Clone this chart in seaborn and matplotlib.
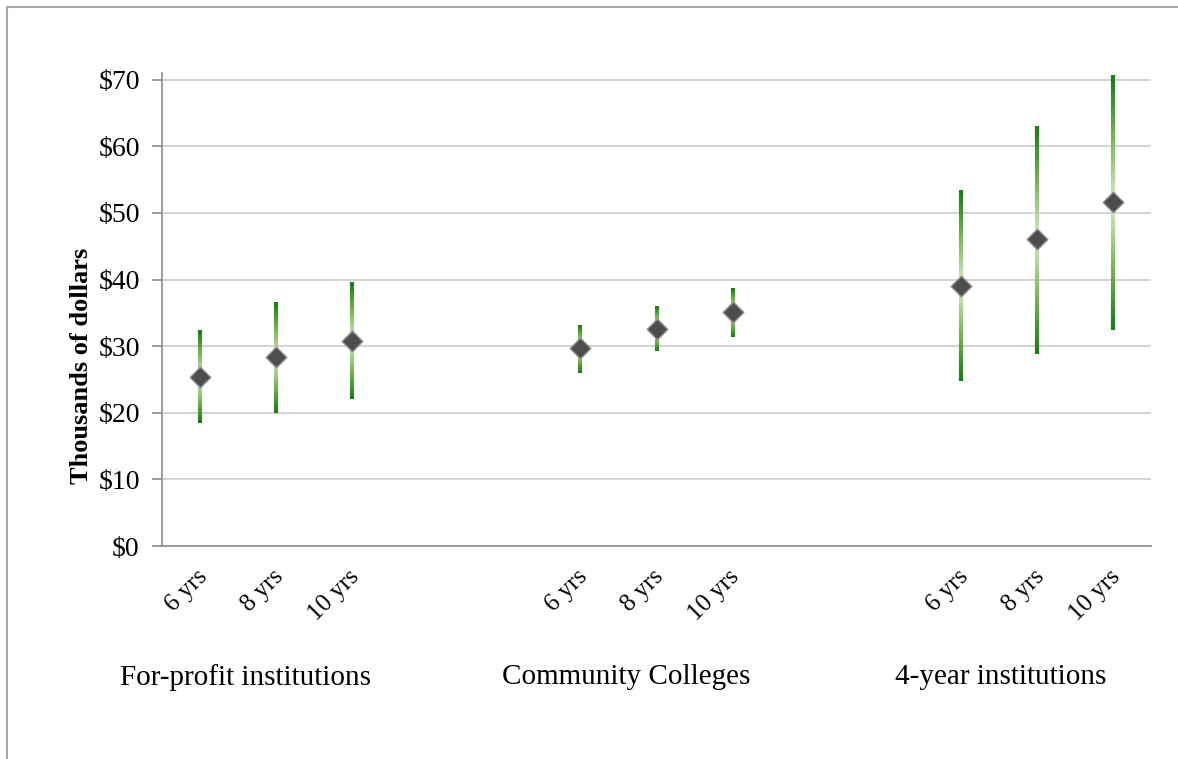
import numpy as np
import pandas as pd
import matplotlib
matplotlib.use("Agg")
import matplotlib.pyplot as plt
import matplotlib.transforms as mtransforms
from matplotlib.collections import LineCollection
from matplotlib.colors import LinearSegmentedColormap
from matplotlib.patches import Rectangle
import seaborn as sns

# ---- data (13 category slots, blanks separate the groups) ----
tick_labels = ["6 yrs", "8 yrs", "10 yrs", "", "",
               "6 yrs", "8 yrs", "10 yrs", "", "",
               "6 yrs", "8 yrs", "10 yrs"]
mid_values = [25.3, 28.3, 30.8, np.nan, np.nan,
              29.7, 32.6, 35.1, np.nan, np.nan,
              39.1, 46.1, 51.6]
low_values = [18.4, 20.0, 22.0, np.nan, np.nan,
              26.0, 29.2, 31.3, np.nan, np.nan,
              24.7, 28.8, 32.4]
high_values = [32.4, 36.6, 39.7, np.nan, np.nan,
               33.2, 36.1, 38.7, np.nan, np.nan,
               53.5, 63.1, 70.7]
group_names = ["For-profit institutions", "Community Colleges", "4-year institutions"]
y_ticks = [0, 10, 20, 30, 40, 50, 60, 70]
y_tick_labels = ["$0", "$10", "$20", "$30", "$40", "$50", "$60", "$70"]

sns.set_theme(style="white")
plt.rcParams["font.family"] = ["Liberation Serif", "DejaVu Serif"]
plt.rcParams["text.color"] = "black"
plt.rcParams["xtick.labelcolor"] = "black"
plt.rcParams["ytick.labelcolor"] = "black"
plt.rcParams["axes.labelcolor"] = "black"

W, H = 1178, 759
fig = plt.figure(figsize=(W / 100, H / 100), dpi=100)
ax = fig.add_axes([162 / W, 1 - 546 / H, (1151 - 162) / W, (546 - 73) / H])

df = pd.DataFrame({"slot": np.arange(len(tick_labels)), "label": tick_labels,
                   "mid": mid_values, "low": low_values, "high": high_values})
d = df.dropna()

# gradient whiskers (dark ends, pale at the marker)
cmap = LinearSegmentedColormap.from_list("g", ["#1a7a1a", "#7fb25a", "#d8ebc8"])
nseg = 60
for _, r in d.iterrows():
    for a, b in ((r["high"], r["mid"]), (r["low"], r["mid"])):
        ys = np.linspace(a, b, nseg + 1)
        segs = [[(r["slot"], ys[i]), (r["slot"], ys[i + 1])] for i in range(nseg)]
        cols = cmap(np.linspace(0, 1, nseg))
        lc = LineCollection(segs, colors=cols, linewidths=3.0, capstyle="butt", zorder=3)
        lc.set_clip_on(False)
        ax.add_collection(lc)
    ax.plot([r["slot"]] * 2, [r["high"], r["high"] - 0.01], color="#1a7a1a", lw=3.0,
            solid_capstyle="round", zorder=3, clip_on=False)
    ax.plot([r["slot"]] * 2, [r["low"], r["low"] + 0.01], color="#1a7a1a", lw=3.0,
            solid_capstyle="round", zorder=3, clip_on=False)

sns.scatterplot(data=d, x="slot", y="mid", marker="D", s=110, color="#4d4d4d",
                edgecolor="#8c8c8c", linewidth=1.0, zorder=5, ax=ax, clip_on=False)

ax.set_xlim(-0.5, len(tick_labels) - 0.5)
ax.set_ylim(0, 71)
ax.set_yticks(y_ticks)
ax.set_yticklabels(y_tick_labels, fontsize=20)
ax.set_xticks(np.arange(len(tick_labels)))
ax.set_xticklabels(tick_labels, fontsize=18, rotation=45, ha="right",
                   rotation_mode="anchor")
ax.set_xticks(np.arange(-0.5, len(tick_labels)), minor=True)
ax.tick_params(axis="x", which="major", length=0, pad=14)
ax.tick_params(axis="x", which="minor", length=6, width=1.2, color="#8c8c8c", direction="out")
ax.tick_params(axis="y", length=7, width=1.2, color="#8c8c8c", direction="out", pad=9,
               left=True)
for lab in ax.get_xticklabels():
    lab.set_transform(lab.get_transform() + mtransforms.ScaledTranslation(-4 / 100, 0, fig.dpi_scale_trans))

ax.grid(axis="y", color="#cccccc", linewidth=1.2)
ax.set_axisbelow(True)
for s in ["top", "right"]:
    ax.spines[s].set_visible(False)
for s in ["left", "bottom"]:
    ax.spines[s].set_color("#8c8c8c")
    ax.spines[s].set_linewidth(1.2)

ax.set_xlabel("")
ax.set_ylabel("Thousands of dollars", fontsize=19, fontweight="bold", color="black")
ax.yaxis.set_label_coords(-0.081, 0.38)
ax.yaxis.label.set_va("center")

trans = mtransforms.blended_transform_factory(ax.transData, ax.transAxes)
group_x = [d["slot"].iloc[0:3].mean() - 0.4, d["slot"].iloc[3:6].mean() - 0.4,
           d["slot"].iloc[6:9].mean() - 0.47]
for gx, name in zip(group_x, group_names):
    ax.text(gx, -0.277, name, transform=trans, ha="center", va="center", fontsize=21,
            color="black")

# outer chart border (partially outside the image)
fig.patches.append(Rectangle((6.5 / W, -0.1), 1.2, 1 - 7 / H + 0.1, transform=fig.transFigure,
                             fill=False, edgecolor="#a6a6a6", linewidth=1.5))

fig.savefig("out.png", dpi=100, facecolor="white")
